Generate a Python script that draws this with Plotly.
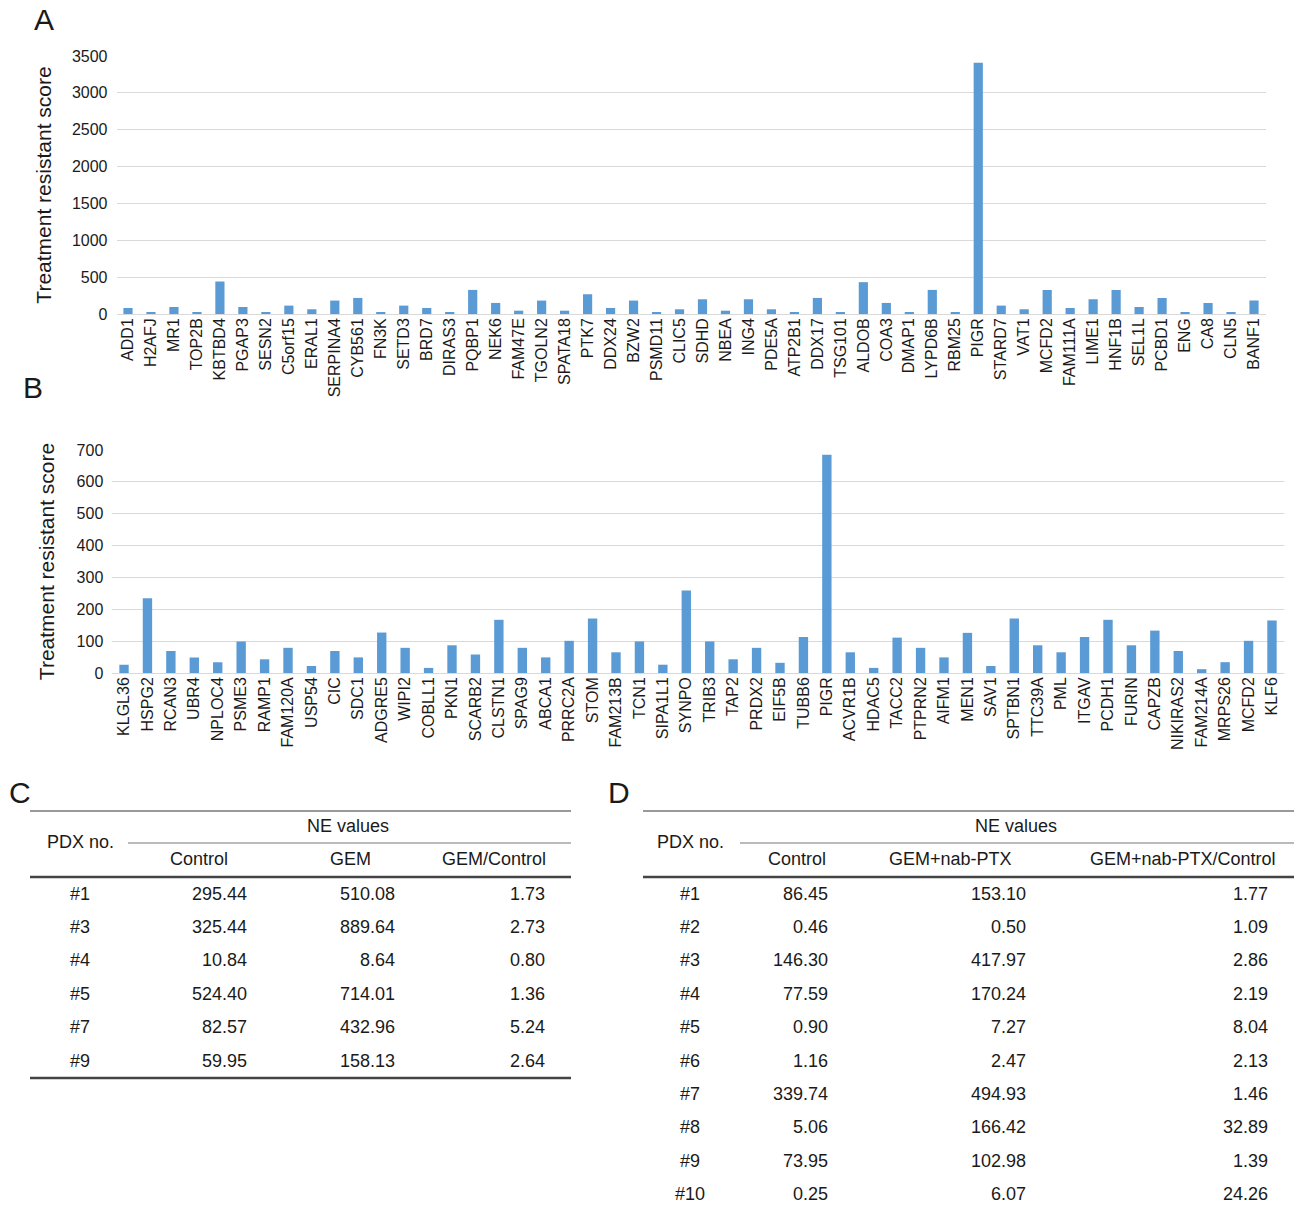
import plotly.graph_objects as go

W, H = 1294, 1210

# ---------------- Panel A data ----------------
genes_a = ["ADD1", "H2AFJ", "MR1", "TOP2B", "KBTBD4", "PGAP3", "SESN2", "C5orf15", "ERAL1", "SERPINA4",
           "CYB561", "FN3K", "SETD3", "BRD7", "DIRAS3", "PQBP1", "NEK6", "FAM47E", "TGOLN2", "SPATA18",
           "PTK7", "DDX24", "BZW2", "PSMD11", "CLIC5", "SDHD", "NBEA", "ING4", "PDE5A", "ATP2B1",
           "DDX17", "TSG101", "ALDOB", "COA3", "DMAP1", "LYPD6B", "RBM25", "PIGR", "STARD7", "VAT1",
           "MCFD2", "FAM111A", "LIME1", "HNF1B", "SEL1L", "PCBD1", "ENG", "CA8", "CLN5", "BANF1"]
scores_a = [82, 18, 95, 14, 441, 95, 27, 114, 64, 182,
            218, 18, 114, 82, 27, 327, 150, 45, 182, 45,
            268, 82, 182, 14, 64, 200, 45, 200, 64, 18,
            218, 27, 432, 150, 27, 327, 14, 3410, 114, 64,
            327, 82, 200, 327, 95, 218, 14, 150, 27, 182]
yticks_a = [0, 500, 1000, 1500, 2000, 2500, 3000, 3500]

# ---------------- Panel B data ----------------
genes_b = ["KLGL36", "HSPG2", "RCAN3", "UBR4", "NPLOC4", "PSME3", "RAMP1", "FAM120A", "USP54", "CIC",
           "SDC1", "ADGRE5", "WIPI2", "COBLL1", "PKN1", "SCARB2", "CLSTN1", "SPAG9", "ABCA1", "PRRC2A",
           "STOM", "FAM213B", "TCN1", "SIPA1L1", "SYNPO", "TRIB3", "TAP2", "PRDX2", "EIF5B", "TUBB6",
           "PIGR", "ACVR1B", "HDAC5", "TACC2", "PTPRN2", "AIFM1", "MEN1", "SAV1", "SPTBN1", "TTC39A",
           "PML", "ITGAV", "PCDH1", "FURIN", "CAPZB", "NIKIRAS2", "FAM214A", "MRPS26", "MCFD2", "KLF6"]
scores_b = [26, 235, 69, 49, 34, 99, 43, 79, 22, 69,
            49, 127, 79, 16, 87, 58, 167, 79, 49, 101,
            171, 65, 99, 26, 259, 99, 43, 79, 32, 113,
            685, 65, 16, 111, 79, 49, 126, 22, 171, 87,
            65, 113, 167, 87, 133, 69, 12, 34, 101, 165]
yticks_b = [0, 100, 200, 300, 400, 500, 600, 700]

# ---------------- Table C data ----------------
c_pdx = ["#1", "#3", "#4", "#5", "#7", "#9"]
c_control = ["295.44", "325.44", "10.84", "524.40", "82.57", "59.95"]
c_gem = ["510.08", "889.64", "8.64", "714.01", "432.96", "158.13"]
c_ratio = ["1.73", "2.73", "0.80", "1.36", "5.24", "2.64"]
c_headers = ["Control", "GEM", "GEM/Control"]

# ---------------- Table D data ----------------
d_pdx = ["#1", "#2", "#3", "#4", "#5", "#6", "#7", "#8", "#9", "#10"]
d_control = ["86.45", "0.46", "146.30", "77.59", "0.90", "1.16", "339.74", "5.06", "73.95", "0.25"]
d_gem = ["153.10", "0.50", "417.97", "170.24", "7.27", "2.47", "494.93", "166.42", "102.98", "6.07"]
d_ratio = ["1.77", "1.09", "2.86", "2.19", "8.04", "2.13", "1.46", "32.89", "1.39", "24.26"]
d_headers = ["Control", "GEM+nab-PTX", "GEM+nab-PTX/Control"]

BAR = "#5B9BD5"
GRID = "#D9D9D9"
TXT = "#1a1a1a"
FONT = "Liberation Sans, Arial, Helvetica, sans-serif"


def px(x):
    return x / W


def py(y):
    return 1 - y / H


fig = go.Figure()
fig.add_trace(go.Bar(x=genes_a, y=scores_a, marker=dict(color=BAR, line=dict(width=0)),
                     xaxis="x", yaxis="y", showlegend=False))
fig.add_trace(go.Bar(x=genes_b, y=scores_b, marker=dict(color=BAR, line=dict(width=0)),
                     xaxis="x2", yaxis="y2", showlegend=False))

axis_common = dict(showline=False, ticks="", automargin=False,
                   tickfont=dict(size=16, color=TXT, family=FONT))

layout = dict(
    width=W, height=H, autosize=False,
    margin=dict(l=0, r=0, t=0, b=0, pad=0, autoexpand=False),
    paper_bgcolor="white", plot_bgcolor="white",
    font=dict(family=FONT, color=TXT),
    showlegend=False,
    bargap=0.6,
    xaxis=dict(domain=[px(116.5), px(1265.5)], anchor="y", tickangle=-90, showgrid=False,
               zeroline=False, **axis_common),
    yaxis=dict(domain=[py(314), py(56)], anchor="x", range=[0, 3500], tickvals=yticks_a,
               showgrid=True, gridcolor=GRID, gridwidth=1.2, zeroline=True, zerolinecolor=GRID,
               zerolinewidth=1.2, ticklabelstandoff=8,
               title=dict(text="Treatment resistant score", font=dict(size=21, color=TXT, family=FONT),
                          standoff=14),
               **axis_common),
    xaxis2=dict(domain=[px(112.3), px(1283.7)], anchor="y2", tickangle=-90, showgrid=False,
                zeroline=False, **axis_common),
    yaxis2=dict(domain=[py(673), py(450)], anchor="x2", range=[0, 700], tickvals=yticks_b,
                showgrid=True, gridcolor=GRID, gridwidth=1.2, zeroline=True, zerolinecolor=GRID,
                zerolinewidth=1.2, ticklabelstandoff=8,
                title=dict(text="Treatment resistant score", font=dict(size=21, color=TXT, family=FONT),
                           standoff=16),
                **axis_common),
)
fig.update_layout(**layout)

annotations = []
shapes = []


def text(x, y, s, anchor="center", size=18):
    annotations.append(dict(x=px(x), y=py(y), xref="paper", yref="paper", text=s, showarrow=False,
                            xanchor=anchor, yanchor="middle",
                            font=dict(size=size, color=TXT, family=FONT)))


def hline(x0, x1, y, w, color):
    shapes.append(dict(type="line", xref="paper", yref="paper", x0=px(x0), x1=px(x1),
                       y0=py(y), y1=py(y), line=dict(color=color, width=w)))


# panel letters
for letter, lx, ly in [("A", 44, 20), ("B", 33, 388), ("C", 20, 792), ("D", 619, 792)]:
    text(lx, ly, letter, size=30)

# ---------------- Table C ----------------
row_y0, row_dy = 893.5, 33.4
hline(30, 571, 811, 1.6, "#777777")
hline(128, 571, 843, 1.2, "#777777")
hline(30, 571, 877, 2.6, "#444444")
hline(30, 571, 1078, 2.6, "#444444")
text(80, 842, "PDX no.")
text(348, 826, "NE values")
for hx, h in zip([199, 350, 494], c_headers):
    text(hx, 859, h)
for i, (p, a, b, r) in enumerate(zip(c_pdx, c_control, c_gem, c_ratio)):
    yy = row_y0 + i * row_dy
    text(80, yy, p)
    text(249, yy, a, "right")
    text(397, yy, b, "right")
    text(547, yy, r, "right")

# ---------------- Table D ----------------
hline(643, 1294, 811, 1.6, "#777777")
hline(740, 1294, 843, 1.2, "#777777")
hline(643, 1294, 877, 2.6, "#444444")
text(690, 842, "PDX no.")
text(1016, 826, "NE values")
for hx, h in zip([797, 950, 1183], d_headers):
    text(hx, 859, h)
for i, (p, a, b, r) in enumerate(zip(d_pdx, d_control, d_gem, d_ratio)):
    yy = row_y0 + i * row_dy
    text(690, yy, p)
    text(830, yy, a, "right")
    text(1028, yy, b, "right")
    text(1270, yy, r, "right")

fig.update_layout(annotations=annotations, shapes=shapes)
fig.write_html("out.html", config={"displayModeBar": False},
               post_script="document.body.style.margin='0px';document.body.style.overflow='hidden';")
